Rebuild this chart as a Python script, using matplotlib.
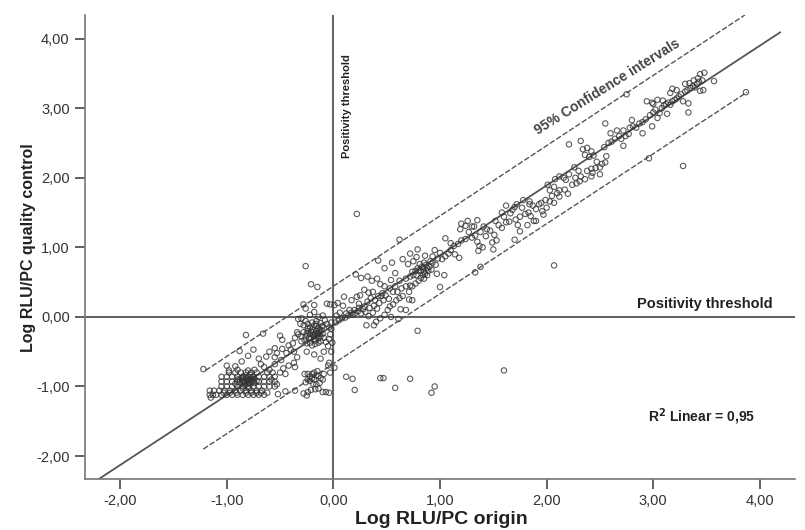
import numpy as np
import matplotlib
matplotlib.use('Agg')
import matplotlib.pyplot as plt

plt.rcParams['font.family'] = ['Liberation Sans', 'DejaVu Sans']

# values, (origin, quality control)
low_block = [
    (-1.15,-1.16),(-1.13,-1.12),(-1.16,-1.12),(-1.10,-1.12),(-1.05,-1.12),(-1.00,-1.12),(-0.95,-1.12),(-0.90,-1.12),
    (-0.85,-1.12),(-0.80,-1.12),(-0.75,-1.12),(-0.70,-1.12),(-0.65,-1.12),(-1.16,-1.06),(-1.12,-1.06),(-1.07,-1.06),
    (-1.02,-1.06),(-0.97,-1.06),(-0.92,-1.06),(-0.87,-1.06),(-0.82,-1.06),(-0.77,-1.06),(-0.72,-1.06),(-0.67,-1.06),
    (-1.05,-1.00),(-1.00,-1.00),(-0.95,-1.00),(-0.90,-1.00),(-0.85,-1.00),(-0.80,-1.00),(-0.75,-1.00),(-0.70,-1.00),
    (-0.65,-1.00),(-0.60,-1.00),(-0.55,-1.00),(-1.05,-0.93),(-1.00,-0.93),(-0.95,-0.93),(-0.90,-0.93),(-0.85,-0.93),
    (-0.80,-0.93),(-0.75,-0.93),(-0.70,-0.93),(-0.65,-0.93),(-0.60,-0.93),(-0.55,-0.93),(-1.05,-0.86),(-1.00,-0.86),
    (-0.95,-0.86),(-0.90,-0.86),(-0.85,-0.86),(-0.80,-0.86),(-0.75,-0.86),(-0.70,-0.86),(-0.65,-0.86),(-0.60,-0.86),
    (-0.55,-0.86),(-0.98,-0.80),(-0.92,-0.80),(-0.87,-0.80),(-0.82,-0.80),(-0.77,-0.80),(-0.72,-0.80),(-0.62,-0.80),
    (-0.57,-0.80),(-0.85,-0.90),(-0.83,-0.95),(-0.80,-0.90),(-0.78,-0.96),(-0.76,-0.90),(-0.88,-0.90),(-0.82,-0.84),
    (-0.78,-0.83),(-0.74,-0.95),(-0.85,-1.03),(-0.92,-0.96),(-0.72,-1.09),(-0.68,-1.09),(-0.62,-1.09),(-0.58,-0.90),
    (-0.90,-0.76),(-0.80,-0.77),(-0.74,-0.76),(-0.98,-0.77),(-0.92,-0.71),(-0.60,-0.76),(-0.50,-0.80),(-0.53,-0.97),
    (-0.45,-0.82),(-0.52,-1.11),(-0.45,-1.07),(-0.36,-1.06),(-1.00,-0.70),(-1.22,-0.75),(-0.86,-0.64),(-0.80,-0.56),
    (-0.75,-0.47),(-0.88,-0.49),(-0.70,-0.60),(-0.63,-0.57),(-0.55,-0.68),(-0.49,-0.62),(-0.60,-0.50),(-0.55,-0.45),
    (-0.68,-0.68),(-0.65,-0.72),(-0.47,-0.74),(-0.42,-0.70),(-0.37,-0.66),(-0.36,-0.72),
    (-0.86,-0.88),(-0.84,-0.92),(-0.82,-0.88),(-0.80,-0.96),(-0.78,-0.90),(-0.76,-0.86),(-0.74,-0.89),(-0.84,-0.86),
    (-0.88,-0.94),(-0.90,-0.90),(-0.81,-0.92),(-0.77,-0.93),(-0.83,-0.98),(-0.79,-1.02),(-0.72,-0.92),
    (-0.91,-1.09),(-1.03,-1.09),(-0.97,-1.09),(-0.82,-1.09),(-0.77,-1.09),
]
low_right = [
    (-0.28,-1.10),(-0.25,-1.13),(-0.24,-1.08),(-0.21,-1.05),(-0.17,-1.04),(-0.14,-1.03),(-0.10,-1.08),(-0.07,-1.08),
    (-0.04,-1.09),(-0.26,-0.94),(-0.24,-0.90),(-0.22,-0.86),(-0.20,-0.82),(-0.18,-0.80),(-0.16,-0.84),(-0.14,-0.85),
    (-0.12,-0.88),(-0.24,-0.82),(-0.22,-0.92),(-0.19,-0.96),(-0.16,-0.97),(-0.13,-0.95),(-0.10,-0.90),(-0.27,-0.82),
    (-0.20,-0.88),(-0.18,-0.90),(-0.15,-0.78),(-0.09,-0.82),(-0.03,-0.80),(0.01,-0.73),(-0.05,-0.70),
]
mid_cluster = [
    (-0.33,-0.03),(-0.31,-0.10),(-0.30,-0.02),(-0.28,-0.12),(-0.26,-0.06),(-0.24,-0.10),(-0.22,-0.15),(-0.20,-0.08),
    (-0.18,-0.12),(-0.16,-0.06),(-0.14,-0.16),(-0.12,-0.09),(-0.10,-0.13),(-0.08,-0.05),(-0.06,-0.10),(-0.04,-0.15),
    (-0.02,-0.08),(-0.02,-0.17),(-0.03,-0.25),(-0.28,-0.22),(-0.26,-0.28),(-0.24,-0.20),(-0.22,-0.25),(-0.21,-0.31),
    (-0.19,-0.22),(-0.18,-0.28),(-0.17,-0.34),(-0.16,-0.20),(-0.15,-0.25),(-0.14,-0.31),(-0.13,-0.22),(-0.12,-0.28),
    (-0.11,-0.19),(-0.10,-0.24),(-0.09,-0.30),(-0.30,-0.28),(-0.33,-0.25),(-0.36,-0.30),(-0.34,-0.22),(-0.30,-0.35),
    (-0.27,-0.33),(-0.25,-0.38),(-0.22,-0.37),(-0.20,-0.41),(-0.17,-0.39),(-0.14,-0.37),(-0.12,-0.35),(-0.07,-0.36),
    (-0.04,-0.32),(-0.05,-0.42),(-0.01,-0.37),(-0.25,-0.50),(-0.18,-0.54),(-0.12,-0.60),(-0.09,-0.50),(-0.04,-0.66),
    (-0.38,-0.38),(-0.42,-0.41),(-0.40,-0.47),(-0.37,-0.50),(-0.44,-0.52),(-0.48,-0.46),(-0.53,-0.52),(-0.55,-0.58),
    (-0.34,-0.58),(-0.22,0.03),(-0.18,0.07),(-0.14,0.00),(-0.10,0.02),(-0.26,0.12),(-0.28,0.18),(-0.18,0.17),
    (-0.06,0.19),(-0.03,0.18),(-0.26,0.73),(-0.21,0.47),(-0.15,0.43),(-0.82,-0.26),(-0.66,-0.24),(-0.50,-0.27),
    (-0.48,-0.33),(-0.02,-0.50),(-0.24,-0.16),(-0.20,-0.18),(-0.16,-0.13),(-0.15,-0.28),(-0.19,-0.26),(-0.23,-0.30),
    (-0.17,-0.24),(-0.13,-0.19),(-0.21,-0.21),(-0.25,-0.24),(-0.18,-0.32),(-0.14,-0.24),(-0.11,-0.14),(-0.16,-0.10),
]
diag_low = [
    (0.01,0.17),(0.04,0.20),(0.03,0.02),(0.06,0.06),(0.09,0.16),(0.12,0.05),(0.15,0.10),(0.18,0.03),(0.02,-0.08),
    (0.05,-0.05),(0.08,-0.02),(0.11,-0.01),(0.14,0.02),(0.17,0.06),(0.20,0.10),(0.23,0.08),(0.26,0.05),(0.30,0.07),
    (0.33,0.01),(0.37,0.06),(0.41,0.12),(0.31,-0.12),(0.38,-0.12),(0.22,0.29),(0.17,0.24),(0.10,0.29),(0.24,0.19),
    (0.29,0.15),(0.32,0.22),(0.35,0.27),(0.38,0.16),(0.43,0.20),(0.47,0.24),(0.51,0.10),(0.48,0.03),(0.44,-0.02),
    (0.40,-0.07),(0.53,0.15),(0.56,0.18),(0.59,0.24),(0.62,0.27),(0.65,0.30),(0.52,0.26),(0.49,0.31),(0.46,0.34),
    (0.42,0.30),(0.37,0.36),(0.33,0.35),(0.29,0.39),(0.25,0.31),(0.56,0.36),(0.60,0.36),(0.64,0.41),(0.68,0.44),
    (0.71,0.36),(0.74,0.44),(0.77,0.48),(0.80,0.52),(0.71,0.25),(0.74,0.24),(0.63,0.11),(0.54,0.00),(0.61,-0.03),
    (0.68,0.10),(0.58,0.44),(0.53,0.41),(0.48,0.44),(0.44,0.47),(0.41,0.55),(0.36,0.52),(0.32,0.58),(0.26,0.56),
    (0.21,0.61),(0.62,0.52),(0.68,0.55),(0.58,0.63),(0.54,0.53),(0.72,0.58),(0.74,0.65),(0.78,0.60),(0.82,0.56),
    (0.85,0.55),(0.88,0.60),(0.80,0.67),(0.84,0.70),(0.87,0.75),(0.90,0.72),(0.93,0.78),(0.81,0.76),(0.85,0.65),
    (0.89,0.66),(0.92,0.68),(0.96,0.75),(0.75,0.80),(0.70,0.76),(0.78,0.86),(0.72,0.91),(0.65,0.83),(0.55,0.78),
    (0.48,0.70),(0.42,0.81),(0.62,1.11),(0.79,0.97),(0.86,0.88),(0.93,0.87),(0.98,0.84),(1.02,0.83),(1.05,0.87),
    (1.00,0.92),(0.95,0.96),(1.08,0.91),(1.10,0.96),(1.14,0.90),(1.18,0.85),(0.97,0.62),(1.00,0.43),(1.04,0.60),
    (0.72,0.45),(0.79,-0.20),(0.83,0.72),(0.85,0.78),(0.88,0.70),(0.82,0.66),(0.86,0.62),(0.79,0.70),(0.91,0.80),
    (0.77,0.66),(0.75,0.60),(0.84,0.60),(0.20,0.05),(0.24,0.13),(0.28,0.11),(0.34,0.13),(0.39,0.24),(0.45,0.30),
]
diag_mid = [
    (1.10,1.06),(1.05,1.13),(1.13,1.02),(1.17,1.05),(1.20,1.10),(1.24,1.12),(1.27,1.22),(1.30,1.14),(1.33,1.17),
    (1.35,1.08),(1.37,1.02),(1.40,1.00),(1.33,0.64),(1.38,0.72),(1.36,0.95),(1.43,1.16),(1.47,1.24),(1.44,1.26),
    (1.41,1.30),(1.38,1.22),(1.30,1.30),(1.24,1.31),(1.19,1.26),(1.20,1.34),(1.26,1.38),(1.32,1.30),(1.35,1.39),
    (1.49,1.07),(1.51,1.18),(1.53,1.10),(1.50,0.97),(1.58,1.28),(1.62,1.36),(1.55,1.32),(1.52,1.38),(1.60,1.44),
    (1.65,1.37),(1.58,1.50),(1.66,1.49),(1.62,1.60),(1.68,1.54),(1.71,1.40),(1.75,1.44),(1.70,1.58),(1.77,1.57),
    (1.80,1.48),(1.83,1.50),(1.85,1.45),(1.88,1.38),(1.90,1.38),(1.73,1.32),(1.75,1.23),(1.70,1.11),(1.82,1.32),
    (1.87,1.60),(1.84,1.66),(1.90,1.55),(1.93,1.62),(1.96,1.52),(1.97,1.47),(1.99,1.68),(2.03,1.66),(2.07,1.64),
    (2.00,1.57),(1.95,1.64),(2.05,1.74),(2.10,1.78),(2.12,1.73),(2.03,1.82),(2.07,1.87),(2.12,1.82),(2.17,1.83),
    (2.20,1.77),(2.18,1.97),(2.27,2.00),(2.24,1.90),(2.28,1.92),(2.31,1.95),(2.32,2.02),(2.36,1.98),(2.38,2.10),
    (2.42,2.13),(2.46,2.14),(2.43,2.07),(2.42,2.02),(2.50,2.15),(2.52,2.20),(2.55,2.22),(2.50,2.05),(2.30,2.10),
    (2.26,2.15),(2.21,2.05),(2.16,2.00),(2.12,2.02),(2.08,1.98),(2.01,1.90),(1.84,1.62),(1.78,1.68),(1.72,1.62),
    (0.22,1.48),(2.07,0.74),(1.60,-0.77),
]
diag_high = [
    (2.21,2.48),(2.32,2.53),(2.34,2.41),(2.38,2.43),(2.42,2.38),(2.44,2.32),(2.47,2.23),(2.40,2.30),(2.36,2.33),
    (2.56,2.31),(2.54,2.44),(2.58,2.50),(2.61,2.52),(2.64,2.56),(2.68,2.60),(2.72,2.46),(2.70,2.56),(2.74,2.60),
    (2.77,2.63),(2.55,2.78),(2.60,2.64),(2.66,2.68),(2.72,2.68),(2.78,2.72),(2.81,2.74),(2.84,2.72),(2.87,2.78),
    (2.90,2.80),(2.80,2.83),(2.90,2.64),(2.99,2.74),(2.96,2.28),(2.93,2.84),(2.97,2.90),(3.00,2.94),(3.02,2.98),
    (3.04,2.86),(3.06,2.93),(3.08,3.00),(3.10,3.04),(3.13,2.92),(3.12,3.06),(3.14,3.08),(3.16,3.05),(3.18,3.10),
    (3.20,3.12),(3.22,3.14),(3.24,3.17),(3.26,3.20),(3.28,3.10),(3.30,3.24),(3.33,3.07),(3.33,2.94),(3.32,3.26),
    (3.35,3.29),(3.37,3.32),(3.39,3.30),(3.41,3.35),(3.43,3.38),(3.44,3.49),(3.48,3.51),(3.57,3.39),(3.46,3.40),
    (3.42,3.43),(3.38,3.40),(3.34,3.36),(3.30,3.35),(3.47,3.26),(3.44,3.25),(3.28,2.17),(3.87,3.23),(2.75,3.20),
    (2.94,3.10),(2.99,3.08),(3.04,3.12),(3.09,3.11),(3.00,3.06),(3.16,3.22),(3.18,3.28),(3.22,3.26),
]
outliers_low = [
    (0.12,-0.86),(0.18,-0.89),(0.20,-1.05),(0.44,-0.88),(0.47,-0.88),(0.72,-0.89),(0.58,-1.02),(0.92,-1.09),(0.95,-1.00),
]
point_groups = [low_block, low_right, mid_cluster, diag_low, diag_mid, diag_high, outliers_low]

x_ticks = [-2, -1, 0, 1, 2, 3, 4]
y_ticks = [-2, -1, 0, 1, 2, 3, 4]
tick_labels = ['-2,00', '-1,00', '0,00', '1,00', '2,00', '3,00', '4,00']

fit_x = [-2.2, 4.19]
fit_y = [-2.33, 4.09]
upper_x = [-1.2, 3.86]
upper_y = [-0.77, 4.34]
lower_x = [-1.22, 3.88]
lower_y = [-1.90, 3.23]

fig = plt.figure(figsize=(8.05, 5.3), dpi=100)
ax = fig.add_axes([85 / 805, 1 - 479 / 530, 710 / 805, 464 / 530])
ax.set_xlim(-2.33, 4.33)
ax.set_ylim(-2.33, 4.34)

pts = np.array([p for group in point_groups for p in group])
ax.scatter(pts[:, 0], pts[:, 1], s=15, facecolors='none', edgecolors='#333333', linewidths=0.8, alpha=0.8, zorder=3)

ax.plot(fit_x, fit_y, color='#555555', lw=1.3, zorder=2)
ax.plot(upper_x, upper_y, color='#555555', lw=1.0, ls=(0, (4, 1.5)), zorder=2)
ax.plot(lower_x, lower_y, color='#555555', lw=1.0, ls=(0, (4, 1.5)), zorder=2)
ax.axvline(0, color='#666666', lw=1.5, zorder=1)
ax.axhline(0, color='#444444', lw=1.2, zorder=1)

for side in ['top', 'right']:
    ax.spines[side].set_visible(False)
for side in ['left', 'bottom']:
    ax.spines[side].set_color('#777777')
    ax.spines[side].set_linewidth(1.2)

ax.set_xticks(x_ticks)
ax.set_xticklabels(tick_labels)
ax.set_yticks(y_ticks)
ax.set_yticklabels(tick_labels)
ax.tick_params(axis='both', length=7, width=1.3, color='#555555', labelsize=10.5, labelcolor='#333333', pad=4)

fig.text(441 / 805, 1 - 519 / 530, 'Log RLU/PC origin', fontsize=14, fontweight='bold',
         ha='center', va='center', color='#222222')
fig.text(28 / 805, 1 - 248 / 530, 'Log RLU/PC quality control', rotation=90, fontsize=11.5, fontweight='bold',
         ha='center', va='center', color='#222222')

ax.text(0.13, 3.03, 'Positivity threshold', rotation=90, fontsize=8, fontweight='bold',
        ha='center', va='center', color='#222222')
ax.text(3.48, 0.18, 'Positivity threshold', fontsize=10.5, fontweight='bold',
        ha='center', va='center', color='#222222')
ax.text(2.565, 3.3, '95% Confidence intervals', rotation=32, fontsize=10, fontweight='bold',
        ha='center', va='center', rotation_mode='anchor', color='#444444')
ax.text(3.45, -1.43, 'R$^{\\mathbf{2}}$ Linear = 0,95', fontsize=10, fontweight='bold',
        ha='center', va='center', color='#222222')

fig.savefig('out.png', dpi=100)
